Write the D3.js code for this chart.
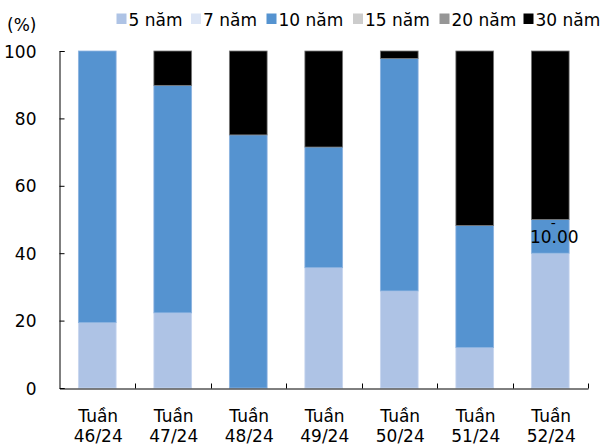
<!DOCTYPE html>
<html><head><meta charset="utf-8">
<script src="https://cdn.jsdelivr.net/npm/d3@7"></script>
<style>body{margin:0;background:#fff}svg{display:block}text{font-family:"DejaVu Sans",sans-serif;fill:#000}</style>
</head><body><svg id="c" width="601" height="446"></svg>
<script>
const categories = ["Tuần\n46/24","Tuần\n47/24","Tuần\n48/24","Tuần\n49/24","Tuần\n50/24","Tuần\n51/24","Tuần\n52/24"];
const seriesNames = ["5 năm","7 năm","10 năm","15 năm","20 năm","30 năm"];
const s5  = [19.4, 22.3, 0,    35.7, 28.8, 12.0, 40.0];
const s7  = [0, 0, 0, 0, 0, 0, 0];
const s10 = [80.6, 67.5, 75.1, 35.8, 69.0, 36.2, 10.0];
const s15 = [0, 0, 0, 0, 0, 0, 0];
const s20 = [0, 0, 0, 0, 0, 0, 0];
const s30 = [0, 10.2, 24.9, 28.5, 2.2, 51.8, 50.0];
const yTicks = [0, 20, 40, 60, 80, 100];
const colors = ["#AEC3E5","#DCE5F5","#5593D0","#CCCCCC","#969696","#000000"];
const strokes = ["#c8d6ef","#e8eef8","#8db4e0","#dddddd","#aaaaaa","#7a7a7a"];
const FS = 17;

const allSeries = [s5, s7, s10, s15, s20, s30];
const rows = categories.map((c, i) => {
  const r = {cat: c};
  seriesNames.forEach((n, k) => r[n] = allSeries[k][i]);
  return r;
});
const stack = d3.stack().keys(seriesNames)(rows);

const svg = d3.select("#c");
const x = d3.scaleBand().domain(categories).range([59.5, 588]).paddingInner(0.5).paddingOuter(0.25);
const y = d3.scaleLinear().domain([0, 100]).range([388, 51]);

stack.forEach((layer, k) => {
  svg.append("g").selectAll("rect").data(layer).join("rect")
    .attr("x", d => x(d.data.cat))
    .attr("width", x.bandwidth())
    .attr("y", d => y(d[1]))
    .attr("height", d => Math.max(0, y(d[0]) - y(d[1])))
    .attr("fill", colors[k])
    .attr("stroke", d => (d[1] - d[0]) > 0 ? strokes[k] : "none")
    .attr("stroke-width", 0.8);
});

const yAxis = svg.append("g").attr("transform", "translate(59.5,0)")
  .call(d3.axisLeft(y).tickValues(yTicks).tickSize(-5).tickPadding(23));
yAxis.select(".domain").attr("stroke", "#000");
yAxis.selectAll(".tick line").attr("stroke", "#000");
yAxis.selectAll("text").attr("font-size", FS).attr("font-family", null).attr("dy", "0.36em");

const xAxis = svg.append("g").attr("transform", "translate(0,388.5)")
  .call(d3.axisBottom(x).tickSize(0).tickFormat(""));
xAxis.select(".domain").attr("stroke", "#000");
const bounds = categories.map(c => x(c) - x.step() * x.paddingInner() / 2);
bounds.push(x(categories[categories.length - 1]) + x.bandwidth() + x.step() * x.paddingInner() / 2);
xAxis.selectAll(".bnd").data(bounds.slice(1)).join("line")
  .attr("x1", d => Math.round(d) + 0.5).attr("x2", d => Math.round(d) + 0.5)
  .attr("y1", 0).attr("y2", -5).attr("stroke", "#000");

const xl = svg.append("g");
categories.forEach(c => {
  const lines = c.split("\n");
  const cx = x(c) + x.bandwidth() / 2 + 1;
  const t = xl.append("text").attr("text-anchor", "middle").attr("font-size", FS);
  lines.forEach((l, i) => t.append("tspan").attr("x", cx).attr("y", 421.5 + i * 20).text(l));
});

svg.append("text").attr("x", 7).attr("y", 31).attr("font-size", FS).text("(%)");

const legendX = [116.5, 191, 266.5, 353, 439.5, 523.5];
const lg = svg.append("g");
seriesNames.forEach((n, k) => {
  lg.append("rect").attr("x", legendX[k]).attr("y", 13.5).attr("width", 10).attr("height", 10.5).attr("fill", colors[k]);
  lg.append("text").attr("x", legendX[k] + 12).attr("y", 25.5).attr("font-size", FS).text(n);
});

const last = categories[6];
const cx = x(last) + x.bandwidth() / 2;
svg.append("text").attr("x", cx + 3).attr("y", y(50) + 8).attr("text-anchor", "middle").attr("font-size", 14).text("-");
svg.append("text").attr("x", cx + 4).attr("y", y(45) + 7).attr("text-anchor", "middle").attr("font-size", FS).text(s10[6].toFixed(2));
</script></body></html>
